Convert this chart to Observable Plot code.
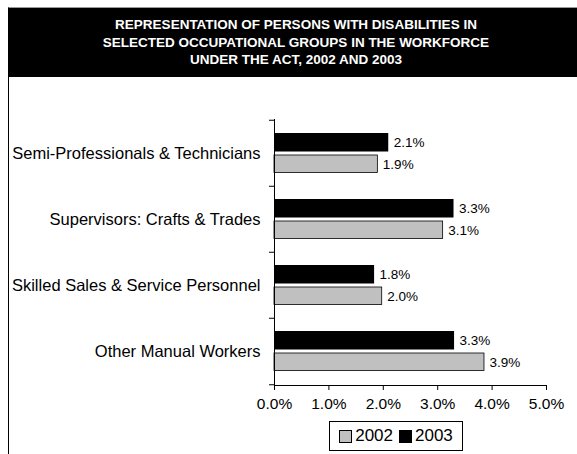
<!DOCTYPE html>
<html><head><meta charset="utf-8">
<script src="https://cdn.jsdelivr.net/npm/d3@7"></script>
<script src="https://cdn.jsdelivr.net/npm/@observablehq/plot@0.6"></script>
<style>
body{margin:0;background:#fff;font-family:Arial,"Liberation Sans",sans-serif;}
#wrap{position:relative;width:577px;height:454px;overflow:hidden;background:#fff;}
#border{position:absolute;left:8px;top:7px;width:600px;height:460px;border-left:1px solid #000;border-top:1px solid #999;}
#title{position:absolute;left:8px;top:8px;width:576px;height:69px;background:#000;color:#fff;font-weight:bold;font-size:13.5px;line-height:17.5px;text-align:center;padding-top:8px;box-sizing:border-box;}
#chart{position:absolute;left:0;top:77px;}
#legend{position:absolute;left:329px;top:421px;width:134px;height:30px;border:1px solid #000;box-sizing:border-box;display:flex;align-items:center;justify-content:center;font-size:17px;background:#fff;}
.sw{display:inline-block;width:11px;height:11px;border:1px solid #000;margin-right:3px;}
.item{display:flex;align-items:center;margin:0 3px;}
</style>
</head><body>
<div id="wrap">
  <div id="border"></div>
  <div id="title">REPRESENTATION OF PERSONS WITH DISABILITIES IN<br>SELECTED OCCUPATIONAL GROUPS IN THE WORKFORCE<br>UNDER THE ACT, 2002 AND 2003</div>
  <div id="chart"></div>
  <div id="legend"></div>
</div>
<script>
const categories = ["Semi-Professionals & Technicians","Supervisors: Crafts & Trades","Skilled Sales & Service Personnel","Other Manual Workers"];
const years = ["2002","2003"];
const values2002 = [1.9, 3.1, 1.98, 3.86];
const values2003 = [2.1, 3.3, 1.84, 3.31];
const xTicks = [0, 1, 2, 3, 4, 5];
const yearColors = ["#c0c0c0", "#000000"];

const rows2002 = categories.map((c, i) => ({category: c, year: years[0], value: values2002[i]}));
const rows2003 = categories.map((c, i) => ({category: c, year: years[1], value: values2003[i]}));
const fmt = d => d.toFixed(1) + "%";
const step = (385 - 119) / categories.length;

const plot = Plot.plot({
  width: 577,
  height: 343,
  marginLeft: 274,
  marginRight: 31,
  marginTop: 42,
  marginBottom: 35,
  style: {fontFamily: "Arial, 'Liberation Sans', sans-serif", background: "transparent", color: "#000"},
  x: {domain: [0, 5], label: null},
  y: {domain: categories, padding: 0, label: null},
  marks: [
    Plot.barX(rows2003, {x: "value", y: "category", fill: yearColors[1], insetTop: 13, insetBottom: 34.5}),
    Plot.barX(rows2002, {x: "value", y: "category", fill: yearColors[0], stroke: "#000", strokeWidth: 0.8, insetTop: 35, insetBottom: 13.5}),
    Plot.text(rows2003, {x: "value", y: "category", text: d => fmt(d.value), dx: 5, dy: -10.5, textAnchor: "start", fontSize: 13.5}),
    Plot.text(rows2002, {x: "value", y: "category", text: d => fmt(d.value), dx: 5, dy: 11, textAnchor: "start", fontSize: 13.5}),
    Plot.ruleX([0], {stroke: "#000"}),
    Plot.frame({anchor: "bottom", stroke: "#000"}),
    Plot.axisY({tickSize: 5, tickFormat: () => "", dy: -step / 2, label: null}),
    Plot.axisY({ticks: [categories[categories.length - 1]], tickSize: 5, tickFormat: () => "", dy: step / 2, label: null}),
    Plot.axisY({tickSize: 0, tickPadding: 14, fontSize: 16.5, label: null}),
    Plot.axisX({ticks: xTicks, tickSize: 5, tickPadding: 7, tickFormat: fmt, fontSize: 15.5, label: null})
  ]
});
document.getElementById("chart").append(plot);

const legend = document.getElementById("legend");
years.forEach((y, i) => {
  const item = document.createElement("span");
  item.className = "item";
  const sw = document.createElement("span");
  sw.className = "sw";
  sw.style.background = yearColors[i];
  item.append(sw, document.createTextNode(y));
  legend.append(item);
});
</script>
</body></html>
